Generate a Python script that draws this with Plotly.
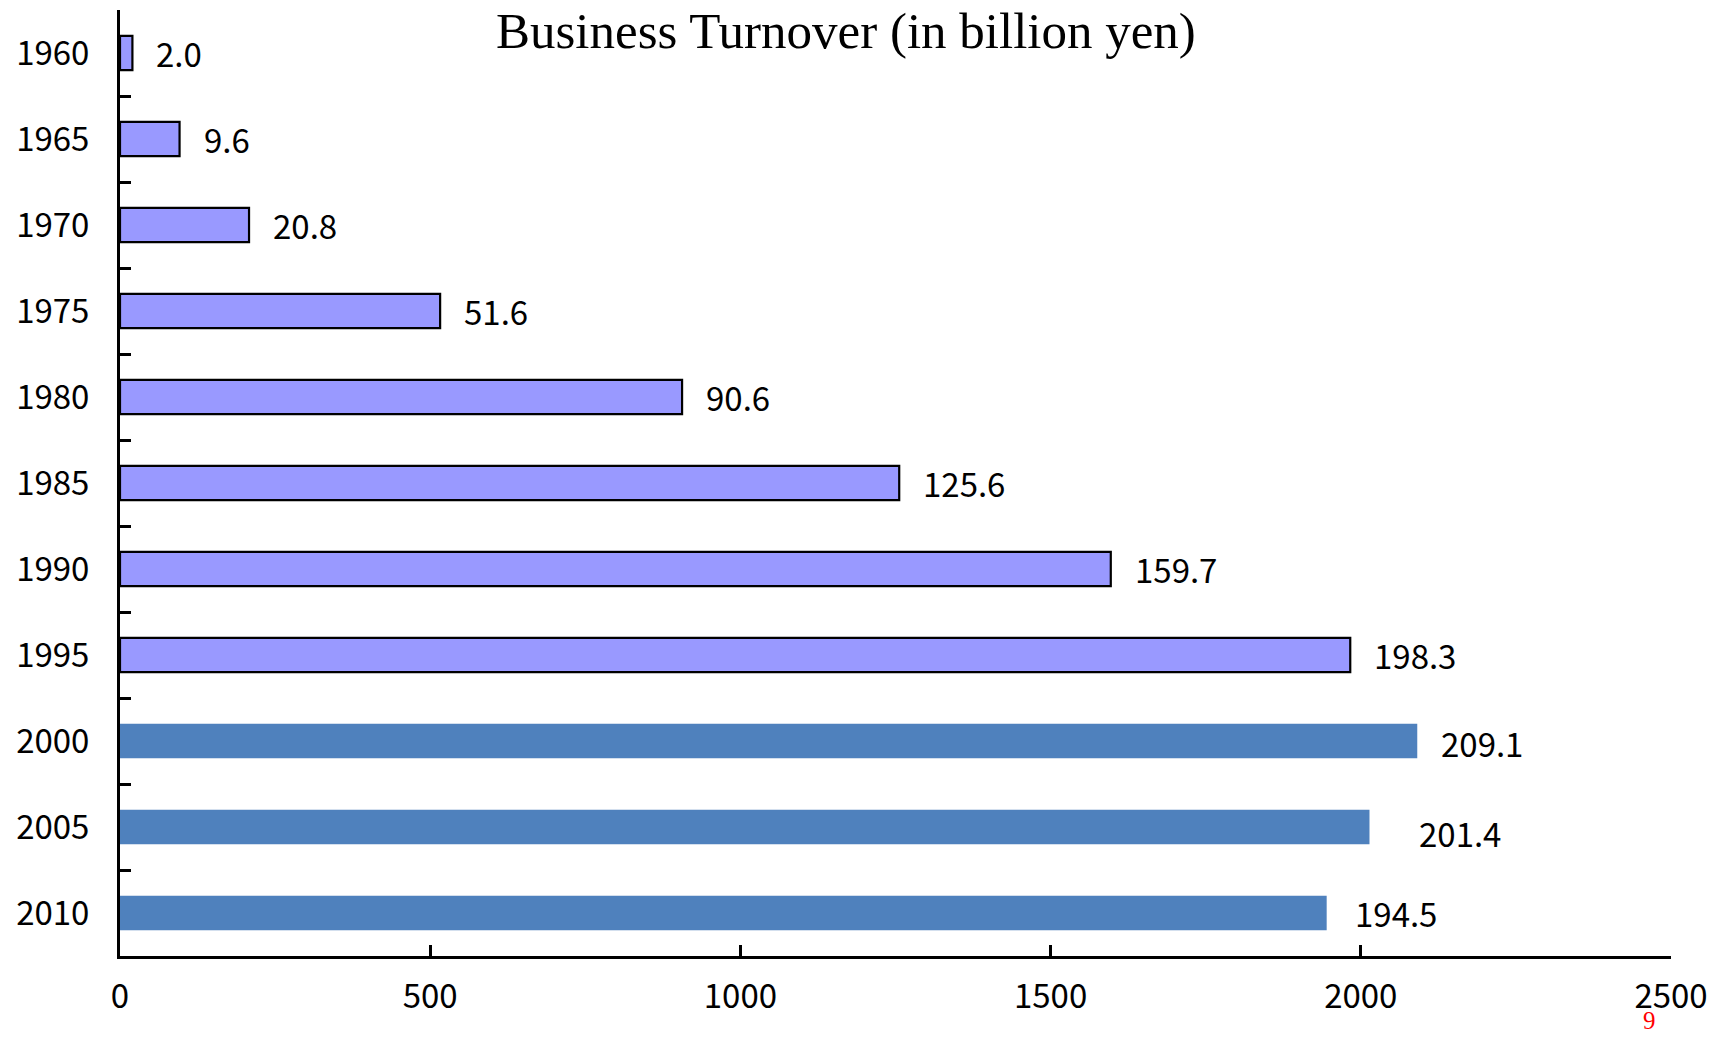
import plotly.graph_objects as go

# Data
years = ["1960", "1965", "1970", "1975", "1980", "1985", "1990", "1995", "2000", "2005", "2010"]
turnover_billion_yen = [2.0, 9.6, 20.8, 51.6, 90.6, 125.6, 159.7, 198.3, 209.1, 201.4, 194.5]
# bar lengths are drawn in units of 100 million yen (1 billion = 10 x 100 million)
turnover_100m_yen = [20, 96, 208, 516, 906, 1256, 1597, 1983, 2091, 2014, 1945]
label_texts = ["2.0", "9.6", "20.8", "51.6", "90.6", "125.6", "159.7", "198.3", "209.1", "201.4", "194.5"]
x_ticks = [0, 500, 1000, 1500, 2000, 2500]

# styling
n_old = 8  # first 8 bars outlined light purple
label_xshift = [22, 22, 22, 22, 22, 22, 22, 22, 22, 48, 26]
label_yshift = [0, 0, 0, 0, 0, 0, 0, 0, -2, -6, 0]

JP = "Noto Sans CJK JP"

fig = go.Figure()
fig.add_trace(go.Bar(
    y=years[:n_old], x=turnover_100m_yen[:n_old], orientation="h",
    marker=dict(color="#9999FF", line=dict(color="black", width=2.2)),
    width=0.40, hoverinfo="skip", showlegend=False,
))
fig.add_trace(go.Bar(
    y=years[n_old:], x=turnover_100m_yen[n_old:], orientation="h",
    marker=dict(color="#4F81BD", line=dict(width=0)),
    width=0.40, hoverinfo="skip", showlegend=False,
))

for i, (v, t, dx, dy) in enumerate(zip(turnover_100m_yen, label_texts, label_xshift, label_yshift)):
    fig.add_annotation(x=v, y=i, text=t, xanchor="left", yanchor="middle",
                       xshift=dx, yshift=dy, showarrow=False,
                       font=dict(family=JP, size=33, color="black"))

fig.add_annotation(xref="paper", yref="paper", x=0.468, y=1.0, yshift=-21,
                   text="Business Turnover (in billion yen)", showarrow=False,
                   xanchor="center", yanchor="middle",
                   font=dict(family="Liberation Serif", size=51, color="black"))

fig.add_annotation(xref="paper", yref="paper", x=0.986, y=-0.0867, yshift=2,
                   text="9", showarrow=False, xanchor="center", yanchor="bottom",
                   font=dict(family="Liberation Serif", size=25, color="red"))

fig.update_layout(
    width=1728, height=1038,
    margin=dict(l=120, r=57, t=10, b=82),
    paper_bgcolor="white", plot_bgcolor="white",
    barmode="overlay",
    xaxis=dict(range=[0, 2500], tickvals=x_ticks, ticks="inside", ticklen=11,
               tickwidth=2.5, tickcolor="black", showline=True, linecolor="black",
               linewidth=3, showgrid=False, zeroline=False,
               tickfont=dict(family=JP, size=33, color="black"),
               ticklabelstandoff=9),
    yaxis=dict(type="category", categoryorder="array", categoryarray=years,
               range=[len(years) - 0.5, -0.5], ticks="inside", ticklen=11, tickwidth=2.5,
               tickcolor="black", tickson="boundaries", showline=True,
               linecolor="black", linewidth=3, showgrid=False, zeroline=False,
               tickfont=dict(family=JP, size=33, color="black"),
               ticklabelstandoff=21),
)

fig.write_html("out.html", config={"displayModeBar": False},
               post_script="document.body.style.margin='0';")
